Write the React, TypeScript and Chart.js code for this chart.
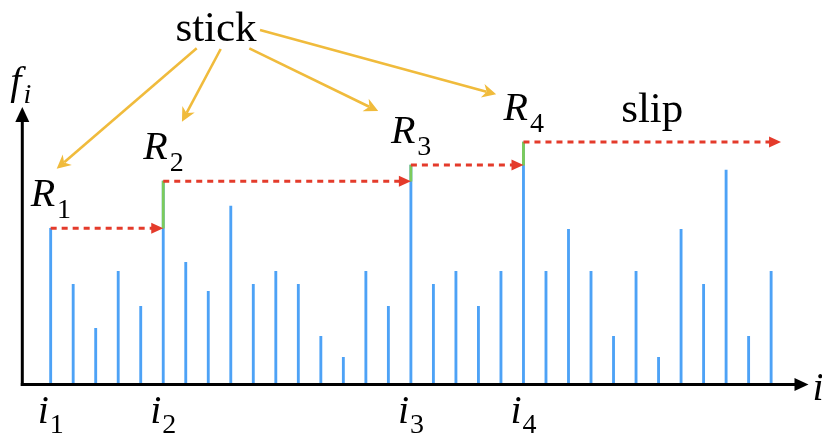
import React, { useEffect, useRef } from "react";
import { Chart, registerables } from "chart.js";

Chart.register(...registerables);

// ---- data ----
const F_VALUES = [
  15.6, 10.0, 5.6, 11.3, 7.8, 20.3, 12.2, 9.3, 17.8, 10.0, 11.3,
  10.0, 4.8, 2.7, 11.3, 7.8, 21.9, 10.0, 11.3, 7.8, 11.3, 24.2,
  11.3, 15.5, 11.3, 4.8, 11.3, 2.7, 15.5, 10.0, 21.4, 4.8, 11.3,
];
const STICK_INDICES = [0, 5, 16, 21];
const STICK_SUBSCRIPTS = ["1", "2", "3", "4"];
const SLIP_END_INDEX = 32.44;
const STICK_LABEL = "stick";
const SLIP_LABEL = "slip";
const Y_LABEL = "f";
const Y_LABEL_SUB = "i";
const X_LABEL = "i";
const R_LABEL = "R";

// ---- layout / style ----
const X_MIN = -1.26;
const X_MAX = 33.66;
const Y_MAX = 28.4;
const Y_AXIS_TIP = 27.7;

const BLUE = "#4DA2F6";
const GREEN = "#7CCB5B";
const RED = "#E43B2B";
const YELLOW = "#F0BB3C";

// yellow arrows: start (absolute, near the "stick" word), tip offset from stick bar / level
const YELLOW_STARTS = [
  [196.7, 48.3],
  [220.7, 49],
  [249.3, 48.3],
  [260, 30],
];
const YELLOW_TIP_OFFSETS = [
  [6, -59.4],
  [18.7, -59.5],
  [-32.7, -54],
  [-27.3, -47.7],
];

const SERIF = "'Liberation Serif', 'Times New Roman', serif";

function arrowHead(
  ctx: CanvasRenderingContext2D,
  tx: number,
  ty: number,
  angle: number,
  len: number,
  half: number,
  color: string,
  notch = 0
) {
  ctx.save();
  ctx.translate(tx, ty);
  ctx.rotate(angle);
  ctx.beginPath();
  ctx.moveTo(0, 0);
  ctx.lineTo(-len, -half);
  ctx.lineTo(-len * (1 - notch), 0);
  ctx.lineTo(-len, half);
  ctx.closePath();
  ctx.fillStyle = color;
  ctx.fill();
  ctx.restore();
}

function subText(
  ctx: CanvasRenderingContext2D,
  main: string,
  sub: string,
  x: number,
  y: number,
  mainFont: string,
  subFont: string,
  subDy: number,
  subDx = 0
) {
  ctx.font = mainFont;
  ctx.fillText(main, x, y);
  const w = ctx.measureText(main).width;
  ctx.font = subFont;
  ctx.fillText(sub, x + w + subDx, y + subDy);
}

const overlayPlugin = {
  id: "overlay",
  afterDatasetsDraw(chart: any) {
    const ctx: CanvasRenderingContext2D = chart.ctx;
    const xs = chart.scales.x;
    const ys = chart.scales.y;
    const px = (v: number) => xs.getPixelForValue(v);
    const py = (v: number) => ys.getPixelForValue(v);
    const x0 = px(X_MIN);
    const xEnd = px(X_MAX);
    const y0 = py(0);
    const yTip = py(Y_AXIS_TIP);

    ctx.save();
    ctx.fillStyle = "#000";
    ctx.textAlign = "left";
    ctx.textBaseline = "alphabetic";

    // red dashed arrows
    ctx.strokeStyle = RED;
    ctx.lineWidth = 3;
    ctx.setLineDash([6, 5]);
    STICK_INDICES.forEach((idx, k) => {
      const sx = px(idx);
      const ex = k < STICK_INDICES.length - 1 ? px(STICK_INDICES[k + 1]) : px(SLIP_END_INDEX);
      const y = py(F_VALUES[idx]);
      ctx.beginPath();
      ctx.moveTo(sx, y);
      ctx.lineTo(ex - 11, y);
      ctx.stroke();
      arrowHead(ctx, ex, y, 0, 12, 5.5, RED);
    });
    ctx.setLineDash([]);

    // axes
    ctx.strokeStyle = "#000";
    ctx.lineWidth = 3;
    ctx.beginPath();
    ctx.moveTo(x0, y0 + 1.5);
    ctx.lineTo(x0, yTip + 12);
    ctx.stroke();
    arrowHead(ctx, x0, yTip, -Math.PI / 2, 15, 7, "#000");
    ctx.beginPath();
    ctx.moveTo(x0 - 1.5, y0);
    ctx.lineTo(xEnd - 11, y0);
    ctx.stroke();
    arrowHead(ctx, xEnd, y0, 0, 14, 6.5, "#000");

    // axis labels
    ctx.fillStyle = "#000";
    subText(ctx, Y_LABEL, Y_LABEL_SUB, x0 - 12, yTip - 13, `italic 40px ${SERIF}`, `italic 28px ${SERIF}`, 9, 2);
    ctx.font = `italic 40px ${SERIF}`;
    ctx.fillText(X_LABEL, xEnd + 4, y0 + 15);

    // stick labels: R_k and i_k
    STICK_INDICES.forEach((idx, k) => {
      const bx = px(idx);
      const ly = py(F_VALUES[idx]);
      subText(ctx, R_LABEL, STICK_SUBSCRIPTS[k], bx - 20, ly - 22, `italic 40px ${SERIF}`, `28px ${SERIF}`, 12, 2);
      subText(ctx, X_LABEL, STICK_SUBSCRIPTS[k], bx - 13, y0 + 38.5, `italic 40px ${SERIF}`, `28px ${SERIF}`, 10, 1);
    });

    // slip label
    const lastIdx = STICK_INDICES[STICK_INDICES.length - 1];
    ctx.font = `43px ${SERIF}`;
    ctx.textAlign = "center";
    ctx.fillText(SLIP_LABEL, (px(lastIdx) + px(SLIP_END_INDEX)) / 2, py(F_VALUES[lastIdx]) - 20);

    // stick word
    ctx.fillText(STICK_LABEL, 216, 41);
    ctx.textAlign = "left";

    // yellow arrows
    ctx.strokeStyle = YELLOW;
    ctx.lineWidth = 2.6;
    STICK_INDICES.forEach((idx, k) => {
      const [sx, sy] = YELLOW_STARTS[k];
      const tx = px(idx) + YELLOW_TIP_OFFSETS[k][0];
      const ty = py(F_VALUES[idx]) + YELLOW_TIP_OFFSETS[k][1];
      const ang = Math.atan2(ty - sy, tx - sx);
      const L = 14;
      ctx.beginPath();
      ctx.moveTo(sx, sy);
      ctx.lineTo(tx - Math.cos(ang) * (L - 4), ty - Math.sin(ang) * (L - 4));
      ctx.stroke();
      arrowHead(ctx, tx, ty, ang, L, 7, YELLOW, 0.3);
    });

    ctx.restore();
  },
};

export default function App() {
  const canvasRef = useRef<HTMLCanvasElement | null>(null);

  useEffect(() => {
    if (!canvasRef.current) return;
    const greenData = STICK_INDICES.slice(1).map((idx, k) => ({
      x: idx,
      y: [F_VALUES[STICK_INDICES[k]], F_VALUES[idx]],
    }));
    const blueData = F_VALUES.map((v, i) => ({ x: i, y: v }));
    const chart = new Chart(canvasRef.current, {
      type: "bar",
      data: {
        datasets: [
          {
            label: "rise",
            data: greenData as any,
            backgroundColor: GREEN,
            borderWidth: 0,
            barThickness: 2.2,
            grouped: false,
          } as any,
          {
            label: "f",
            data: blueData as any,
            backgroundColor: BLUE,
            borderWidth: 0,
            barThickness: 2.2,
            grouped: false,
          } as any,
        ],
      },
      options: {
        animation: false,
        responsive: false,
        maintainAspectRatio: false,
        layout: { padding: { left: 22.3, right: 822 - 808.5, top: 100, bottom: 433 - 384.5 } },
        plugins: { legend: { display: false }, tooltip: { enabled: false } },
        scales: {
          x: { type: "linear", min: X_MIN, max: X_MAX, offset: false, display: false },
          y: { type: "linear", min: 0, max: Y_MAX, display: false },
        },
      },
      plugins: [overlayPlugin],
    });
    return () => chart.destroy();
  }, []);

  return (
    <div style={{ position: "absolute", left: 0, top: 0, width: 822, height: 433, background: "#fff" }}>
      <canvas ref={canvasRef} width={822} height={433} style={{ width: 822, height: 433, display: "block" }} />
    </div>
  );
}
